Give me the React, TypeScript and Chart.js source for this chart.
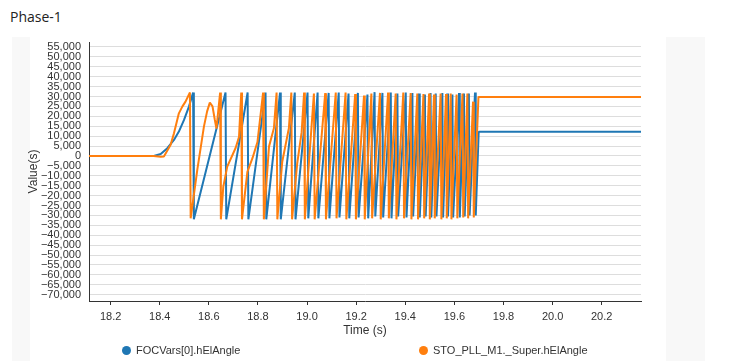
import React, { useEffect, useRef } from "react";
import { Chart, registerables } from "chart.js";
Chart.register(...registerables);

const seriesNames = ["FOCVars[0].hElAngle", "STO_PLL_M1._Super.hElAngle"];
const seriesColors = ["#1f77b4", "#ff7f0e"];

const blueTime = [
  18.112, 18.376, 18.404, 18.431, 18.458, 18.478, 18.499, 18.519, 18.536, 18.539,
  18.668, 18.671, 18.758, 18.761, 18.831, 18.834, 18.89, 18.893, 18.95, 18.953,
  19.002, 19.005, 19.043, 19.046, 19.088, 19.091, 19.129, 19.132, 19.169, 19.172,
  19.207, 19.21, 19.246, 19.249, 19.275, 19.278, 19.307, 19.31, 19.341, 19.344,
  19.368, 19.371, 19.402, 19.405, 19.429, 19.432, 19.456, 19.459, 19.48, 19.483,
  19.503, 19.506, 19.524, 19.527, 19.551, 19.554, 19.571, 19.574, 19.592, 19.595,
  19.619, 19.622, 19.639, 19.642, 19.659, 19.662, 19.684, 19.687, 19.699, 20.36,
];
const blueValue = [
  0, 0, 1000, 3900, 8100, 12300, 18200, 24900, 32000, -32000,
  32000, -32000, 32000, -32000, 32000, -32000, 32000, -32000, 32000, -32000,
  32000, -31500, 32000, -31500, 31800, -31500, 32000, -31000, 31500, -31500,
  31800, -31000, 31000, -31500, 32200, -30500, 31800, -31000, 32000, -31500,
  31500, -30500, 32000, -31000, 31800, -30500, 31500, -31000, 31000, -30500,
  31800, -31000, 31500, -30500, 31800, -31000, 31500, -30500, 31000, -31000,
  31800, -31000, 31500, -30500, 31500, -30000, 32000, -30000, 12200, 12200,
];

const orangeTime = [
  18.112, 18.375, 18.404, 18.417, 18.444, 18.458, 18.478, 18.492, 18.505, 18.523,
  18.526, 18.553, 18.58, 18.593, 18.604, 18.615, 18.624, 18.631, 18.646, 18.649,
  18.659, 18.675, 18.709, 18.723, 18.732, 18.735, 18.757, 18.778, 18.798, 18.821,
  18.824, 18.845, 18.865, 18.876, 18.879, 18.899, 18.926, 18.936, 18.939, 18.96,
  18.978, 18.988, 18.991, 19.028, 19.031, 19.074, 19.077, 19.117, 19.12, 19.157,
  19.16, 19.196, 19.199, 19.232, 19.235, 19.262, 19.265, 19.297, 19.3, 19.33,
  19.333, 19.361, 19.364, 19.392, 19.395, 19.422, 19.425, 19.449, 19.452, 19.474,
  19.477, 19.497, 19.5, 19.517, 19.52, 19.544, 19.547, 19.566, 19.569, 19.585,
  19.588, 19.609, 19.612, 19.633, 19.636, 19.653, 19.656, 19.676, 19.679, 19.698,
  20.36,
];
const orangeValue = [
  0, 0, -400, -300, 5500, 11400, 21500, 24900, 27400, 32000,
  -31500, -7000, 14800, 22500, 26900, 25000, 18500, 13800, 32000, -32000,
  -15500, -5400, 4000, 9700, 32000, -32000, -8000, -1000, 7000, 32000,
  -32000, 4700, 14000, 32000, -32000, -2900, 14000, 32000, -32000, -3700,
  12000, 32000, -32000, 31500, -32000, 31700, -32000, 32000, -31500, 32000,
  -32000, 31200, -32000, 30500, -32000, 31500, -31500, 31800, -32000, 32000,
  -31500, 31500, -32000, 32000, -31500, 31700, -32000, 31500, -32000, 31200,
  -31500, 31500, -32000, 31000, -31500, 31500, -32000, 31200, -31500, 31500,
  -32000, 31000, -31500, 31500, -31000, 31500, -31500, 27400, -31000, 29800,
  29800,
];

const xTicks = [18.2, 18.4, 18.6, 18.8, 19.0, 19.2, 19.4, 19.6, 19.8, 20.0, 20.2];
const yTicks = [
  55000, 50000, 45000, 40000, 35000, 30000, 25000, 20000, 15000, 10000, 5000, 0,
  -5000, -10000, -15000, -20000, -25000, -30000, -35000, -40000, -45000, -50000,
  -55000, -60000, -65000, -70000,
];

const FONT = "'Liberation Sans Narrow', 'Liberation Sans', Arial, sans-serif";

export default function App() {
  const ref = useRef<HTMLCanvasElement | null>(null);

  useEffect(() => {
    if (!ref.current) return;
    const chart = new Chart(ref.current, {
      type: "line",
      data: {
        datasets: [
          {
            label: seriesNames[0],
            data: blueTime.map((t, i) => ({ x: t, y: blueValue[i] })),
            borderColor: seriesColors[0],
            backgroundColor: seriesColors[0],
            borderWidth: 2,
            pointRadius: 0,
            tension: 0,
            borderJoinStyle: "bevel",
            order: 1,
          },
          {
            label: seriesNames[1],
            data: orangeTime.map((t, i) => ({ x: t, y: orangeValue[i] })),
            borderColor: seriesColors[1],
            backgroundColor: seriesColors[1],
            borderWidth: 2,
            pointRadius: 0,
            tension: 0,
            borderJoinStyle: "bevel",
            order: 0,
          },
        ],
      },
      options: {
        animation: false,
        responsive: false,
        maintainAspectRatio: false,
        layout: { padding: { left: 0, right: 102, top: 42, bottom: 23 } },
        plugins: {
          legend: { display: false },
          tooltip: { enabled: false },
          title: { display: false },
        },
        scales: {
          x: {
            type: "linear",
            min: 18.112,
            max: 20.36,
            afterBuildTicks: (s: any) => {
              s.ticks = xTicks.map((v) => ({ value: v }));
            },
            afterFit: (s: any) => {
              s.height = 37;
            },
            grid: {
              display: true,
              drawOnChartArea: false,
              drawTicks: true,
              tickLength: 4,
              color: "#333",
            },
            border: { display: true, color: "#333", width: 1 },
            ticks: {
              padding: 5,
              autoSkip: false,
              maxRotation: 0,
              color: "#333",
              font: { family: FONT, size: 11 },
              callback: (v: any) => Number(v).toFixed(1),
            },
            title: {
              display: true,
              text: "Time (s)",
              color: "#333",
              font: { family: FONT, size: 12 },
              padding: 0,
            },
          },
          y: {
            type: "linear",
            min: -73200,
            max: 57500,
            afterBuildTicks: (s: any) => {
              s.ticks = yTicks.map((v) => ({ value: v }));
            },
            afterFit: (s: any) => {
              s.width = 89;
            },
            grid: { color: "#dddddd", lineWidth: 1, drawTicks: false },
            border: { display: true, color: "#333", width: 1 },
            ticks: {
              padding: 8,
              autoSkip: false,
              color: "#333",
              font: { family: FONT, size: 11 },
              callback: (v: any) => {
                const n = Number(v);
                const s = Math.abs(n).toLocaleString("en-US");
                return n < 0 ? "\u2212" + s : s;
              },
            },
            title: {
              display: true,
              text: "Value(s)",
              color: "#333",
              font: { family: FONT, size: 12 },
              padding: { top: 26, bottom: 0 },
            },
          },
        },
      },
    });
    return () => chart.destroy();
  }, []);

  const legendItem = (i: number, left: number) => (
    <div
      style={{
        position: "absolute",
        left,
        top: 344,
        display: "flex",
        alignItems: "center",
        fontFamily: FONT,
        fontSize: 11,
        color: "#333",
        whiteSpace: "nowrap",
      }}
    >
      <span
        style={{
          display: "inline-block",
          width: 9,
          height: 9,
          borderRadius: "50%",
          background: seriesColors[i],
          marginRight: 5,
        }}
      />
      <span>{seriesNames[i]}</span>
    </div>
  );

  return (
    <div style={{ position: "absolute", left: 0, top: 0, width: 743, height: 361, background: "#fff", overflow: "hidden" }}>
      <div style={{ position: "absolute", left: 12, top: 37, width: 18, height: 324, background: "#f8f8f8" }} />
      <div style={{ position: "absolute", left: 666, top: 37, width: 39, height: 324, background: "#f8f8f8" }} />
      <div
        style={{
          position: "absolute",
          left: 10,
          top: 7,
          fontFamily: "'Open Sans', 'Noto Sans', sans-serif",
          fontSize: 14,
          color: "#222",
        }}
      >
        Phase-1
      </div>
      <canvas
        ref={ref}
        width={743}
        height={361}
        style={{ position: "absolute", left: 0, top: 0, width: 743, height: 361 }}
      />
      {legendItem(0, 122)}
      {legendItem(1, 419)}
    </div>
  );
}
